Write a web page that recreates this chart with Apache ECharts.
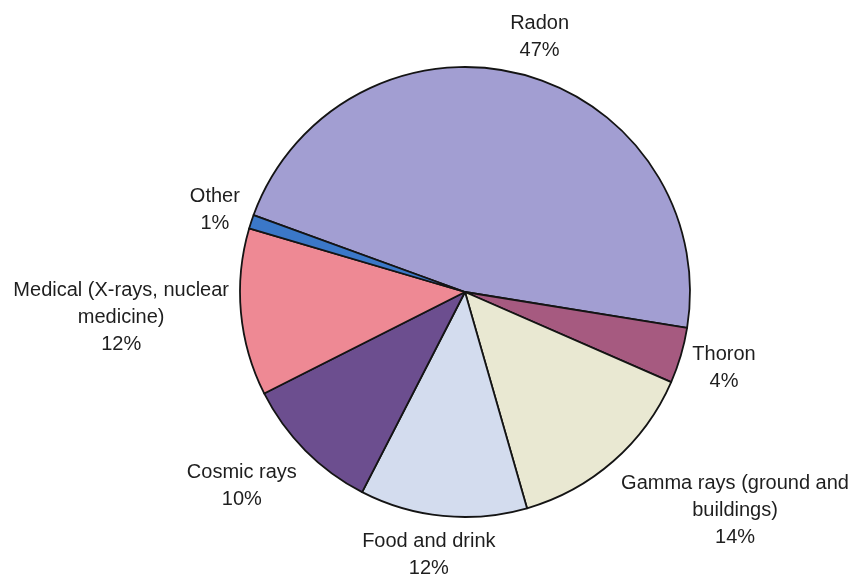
<!DOCTYPE html>
<html>
<head>
<meta charset="utf-8">
<script src="https://cdn.jsdelivr.net/npm/echarts@6/dist/echarts.min.js"></script>
<style>
  html, body { margin: 0; padding: 0; background: #ffffff; }
  #chart { width: 861px; height: 575px; }
</style>
</head>
<body>
<div id="chart"></div>
<script>
// ---- data ----
const categories = [
  'Radon',
  'Thoron',
  'Gamma rays (ground and\nbuildings)',
  'Food and drink',
  'Cosmic rays',
  'Medical (X-rays, nuclear\nmedicine)',
  'Other'
];
const percentValues = [47, 4, 14, 12, 10, 12, 1];
const sliceColors = ['#a29ed2', '#a65a80', '#e9e8d2', '#d3dcee', '#6c4e8f', '#ee8994', '#3b78c8'];

// ---- layout constants ----
const CX = 465, CY = 292, R = 225, START = 160, GAP = 12;

const total = percentValues.reduce((a, b) => a + b, 0);
const midAngles = [];
{
  let cum = 0;
  percentValues.forEach(v => {
    midAngles.push(START - 360 * (cum + v / 2) / total);
    cum += v;
  });
}
const clamp01 = v => Math.max(0, Math.min(1, v));

const chart = echarts.init(document.getElementById('chart'), null, { renderer: 'canvas' });
chart.setOption({
  backgroundColor: '#ffffff',
  animation: false,
  series: [{
    type: 'pie',
    center: [CX, CY],
    radius: R,
    startAngle: START,
    clockwise: true,
    avoidLabelOverlap: false,
    data: categories.map((name, i) => ({
      name: name,
      value: percentValues[i],
      itemStyle: { color: sliceColors[i] }
    })),
    itemStyle: { borderColor: '#141414', borderWidth: 1.8 },
    label: {
      show: true,
      position: 'outside',
      formatter: '{b}\n{c}%',
      fontFamily: '"Liberation Sans", Arial, sans-serif',
      fontSize: 20,
      lineHeight: 27,
      color: '#1e1e1e',
      align: 'center'
    },
    labelLine: { show: false },
    emphasis: { disabled: true },
    labelLayout: function (params) {
      const a = midAngles[params.dataIndex] * Math.PI / 180;
      const c = Math.cos(a), s = Math.sin(a);
      const px = CX + (R + GAP) * c;
      const py = CY - (R + GAP) * s;
      const w = params.labelRect.width, h = params.labelRect.height;
      const fx = clamp01((1 - 2 * c) / 2);
      const fy = s >= 0 ? (1 + s) / 2 : clamp01(0.5 + 0.5 * s - 0.4 * s * s);
      const left = px - w * fx;
      const top = py - h * fy;
      return { x: left + w / 2, y: top, align: 'center', verticalAlign: 'top' };
    }
  }]
});
</script>
</body>
</html>
